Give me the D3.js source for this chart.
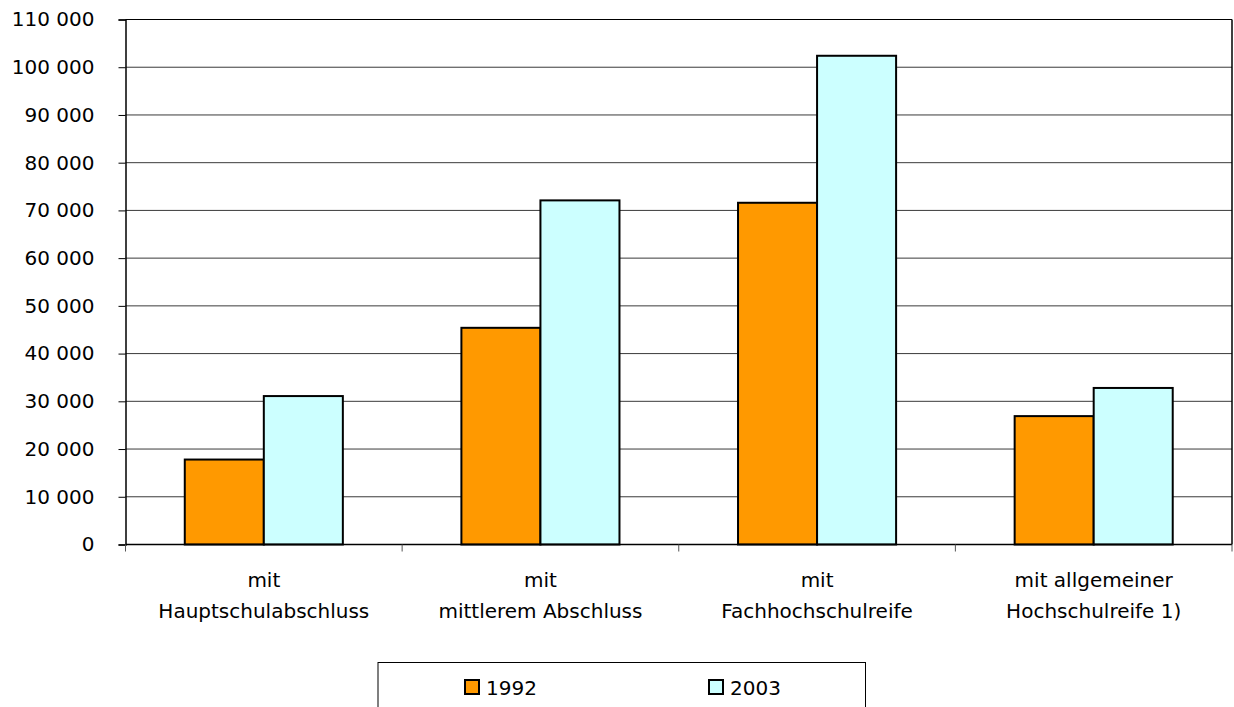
<!DOCTYPE html>
<html>
<head>
<meta charset="utf-8">
<script src="https://cdn.jsdelivr.net/npm/d3@7"></script>
<style>
  html, body { margin: 0; padding: 0; background: #fff; }
  svg { display: block; font-family: "DejaVu Sans", sans-serif; }
</style>
</head>
<body>
<svg id="chart" width="1234" height="707"></svg>
<script>
const categories = [
  ["mit", "Hauptschulabschluss"],
  ["mit", "mittlerem Abschluss"],
  ["mit", "Fachhochschulreife"],
  ["mit allgemeiner", "Hochschulreife 1)"]
];
const seriesNames = ["1992", "2003"];
const values1992 = [17800, 45400, 71600, 26900];
const values2003 = [31100, 72100, 102400, 32800];
const yTicks = [0, 10000, 20000, 30000, 40000, 50000, 60000, 70000, 80000, 90000, 100000, 110000];
const colors = ["#FF9900", "#CCFFFF"];

(function () {
const seriesValues = [values1992, values2003];
const svg = d3.select("#chart");
const pLeft = 125.5, pRight = 1232, pTop = 19.5, pBottom = 544.5;

const locale = d3.formatLocale({ decimal: ",", thousands: " ", grouping: [3], currency: ["", ""] });
const fmt = locale.format(",d");

const catIdx = categories.map((d, i) => i);
const x0 = d3.scaleBand().domain(catIdx).range([pLeft, pRight]).paddingInner(0).paddingOuter(0);
const x1 = d3.scaleBand().domain(seriesNames).range([0, x0.bandwidth()]).paddingInner(0).paddingOuter(0.75);
const y = d3.scaleLinear().domain([0, 110000]).range([pBottom, pTop]);

// gridlines
svg.append("g").selectAll("line").data(yTicks.filter(t => t > 0)).join("line")
  .attr("x1", pLeft).attr("x2", pRight)
  .attr("y1", d => y(d)).attr("y2", d => y(d))
  .attr("stroke", "#3a3a3a").attr("stroke-width", 1);

// plot border
svg.append("line").attr("x1", pRight).attr("x2", pRight).attr("y1", pTop).attr("y2", pBottom)
  .attr("stroke", "#000").attr("stroke-width", 1.5);
svg.append("line").attr("x1", pLeft).attr("x2", pRight).attr("y1", pTop).attr("y2", pTop)
  .attr("stroke", "#000").attr("stroke-width", 1.2);

// bars
seriesNames.forEach((s, si) => {
  svg.append("g").selectAll("rect").data(seriesValues[si]).join("rect")
    .attr("x", (d, i) => x0(i) + x1(s))
    .attr("y", d => y(d))
    .attr("width", x1.bandwidth())
    .attr("height", d => y(0) - y(d))
    .attr("fill", colors[si])
    .attr("stroke", "#000")
    .attr("stroke-width", 2);
});

// y axis
const yAxis = d3.axisLeft(y).tickValues(yTicks).tickFormat(fmt).tickSize(7).tickPadding(24);
const gy = svg.append("g").attr("transform", `translate(${pLeft},0)`).call(yAxis);
gy.select(".domain").attr("stroke", "#000").attr("stroke-width", 1.5);
gy.selectAll(".tick line").attr("stroke", "#000");
gy.selectAll(".tick text").attr("font-size", 20).attr("fill", "#000").attr("font-family", "DejaVu Sans");

// x axis
const gx = svg.append("g").attr("transform", `translate(0,${pBottom})`);
gx.append("line").attr("x1", pLeft).attr("x2", pRight).attr("y1", 0).attr("y2", 0)
  .attr("stroke", "#000").attr("stroke-width", 1.5);
const boundaries = catIdx.map(i => x0(i)).concat([pRight]);
gx.selectAll("line.tk").data(boundaries).join("line").attr("class", "tk")
  .attr("x1", d => d).attr("x2", d => d).attr("y1", 0).attr("y2", 7)
  .attr("stroke", "#555").attr("stroke-width", 1);
const labels = gx.selectAll("text.cat").data(categories).join("text").attr("class", "cat")
  .attr("text-anchor", "middle").attr("font-size", 20).attr("fill", "#000")
  .attr("transform", (d, i) => `translate(${x0(i) + x0.bandwidth() / 2},0)`);
labels.selectAll("tspan").data(d => d).join("tspan")
  .attr("x", 0).attr("y", (d, j) => 42 + j * 31).text(d => d);

// legend
const lg = svg.append("g");
lg.append("rect").attr("x", 378).attr("y", 662.5).attr("width", 487.5).attr("height", 60)
  .attr("fill", "#fff").attr("stroke", "#000").attr("stroke-width", 1);
const legX = [465, 709];
seriesNames.forEach((s, si) => {
  lg.append("rect").attr("x", legX[si]).attr("y", 680).attr("width", 14).attr("height", 14)
    .attr("fill", colors[si]).attr("stroke", "#000").attr("stroke-width", 2);
  lg.append("text").attr("x", legX[si] + 21).attr("y", 695).attr("font-size", 20)
    .attr("fill", "#000").text(s);
});
})();
</script>
</body>
</html>
